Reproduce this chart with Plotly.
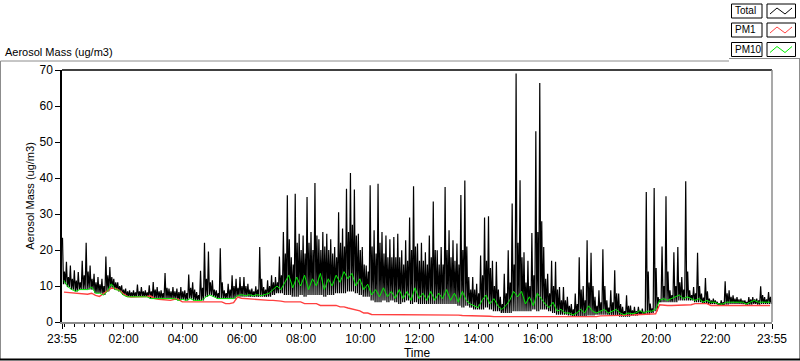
import plotly.graph_objects as go

# ---------------- data (8-minute bins starting at 23:55) ----------------
BIN_MIN = 8
# highest spike in each bin
total_hi = [
    23.4, 16.7, 15.7, 14.4, 13.9, 17.0, 22.0, 15.7, 13.4, 12.5,
    12.0, 18.2, 15.3, 12.0, 11.0, 10.2, 9.3, 8.8, 8.8, 10.4,
    9.7, 8.8, 10.2, 11.1, 9.7, 8.8, 13.6, 9.3, 9.7, 9.3,
    9.7, 8.8, 13.2, 11.0, 8.3, 14.2, 22.0, 19.6, 11.6, 8.8,
    20.5, 8.8, 10.6, 13.0, 12.0, 12.5, 12.5, 10.6, 9.3, 9.9,
    20.8, 9.7, 11.6, 13.0, 12.5, 18.2, 25.0, 35.2, 18.0, 35.6,
    24.5, 24.0, 34.7, 25.0, 38.6, 23.0, 25.0, 24.5, 23.0, 20.8,
    30.5, 26.0, 37.0, 41.4, 36.8, 24.5, 20.8, 15.7, 38.0, 25.5,
    38.4, 25.0, 24.0, 23.0, 23.6, 24.5, 19.9, 22.7, 29.0, 37.7,
    21.8, 22.0, 19.4, 24.0, 33.5, 19.9, 20.8, 37.5, 25.5, 22.7,
    21.8, 35.3, 39.3, 12.5, 12.5, 10.6, 18.5, 29.0, 29.4, 17.0,
    16.7, 7.0, 13.4, 19.9, 32.9, 69.0, 39.4, 19.4, 17.0, 24.7,
    53.0, 66.4, 20.8, 13.4, 17.0, 16.7, 9.7, 9.7, 7.0, 5.0,
    7.9, 18.0, 10.0, 22.7, 19.2, 7.0, 8.8, 20.2, 6.0, 8.8,
    14.4, 7.9, 4.2, 7.4, 4.6, 4.2, 4.2, 3.7, 36.1, 5.1,
    37.2, 6.9, 21.0, 34.9, 8.8, 19.4, 20.8, 12.5, 39.1, 8.8,
    9.7, 19.2, 7.9, 12.2, 6.5, 6.5, 5.6, 6.0, 11.3, 8.8,
    7.4, 6.9, 6.5, 6.0, 6.9, 6.9, 6.5, 9.9, 6.9, 8.3,
]
# top of the dense mass in each bin
total_mid = [
    14.0, 12.5, 12.0, 11.5, 11.0, 13.0, 14.0, 12.0, 11.0, 10.5,
    10.0, 13.0, 12.5, 11.0, 10.0, 9.0, 8.5, 8.2, 8.2, 8.5,
    8.5, 8.2, 8.5, 9.0, 8.5, 8.0, 9.5, 8.5, 8.5, 8.3,
    8.5, 8.0, 9.5, 9.0, 7.5, 9.5, 12.0, 11.0, 9.0, 8.0,
    11.0, 8.0, 9.0, 10.0, 9.5, 10.0, 10.0, 9.0, 8.5, 9.0,
    12.0, 9.0, 10.0, 11.0, 11.0, 13.0, 19.0, 23.0, 16.0, 22.0,
    20.0, 19.0, 22.0, 20.0, 24.0, 20.0, 21.0, 20.0, 19.0, 18.0,
    22.0, 21.0, 25.0, 27.0, 24.0, 20.0, 16.0, 14.0, 21.0, 19.0,
    22.0, 19.0, 18.0, 18.0, 18.0, 18.0, 16.0, 17.0, 20.0, 21.0,
    17.0, 17.0, 16.0, 18.0, 20.0, 16.0, 16.0, 20.0, 18.0, 17.0,
    16.0, 20.0, 21.0, 9.0, 9.0, 8.0, 13.0, 17.0, 15.0, 10.0,
    9.0, 5.0, 8.0, 11.0, 16.0, 22.0, 18.0, 11.0, 10.0, 13.0,
    25.0, 28.0, 12.0, 8.0, 10.0, 9.0, 6.0, 6.0, 4.5, 3.5,
    5.0, 9.0, 6.0, 11.0, 10.0, 4.5, 5.5, 10.0, 4.0, 5.5,
    8.0, 5.0, 3.0, 4.5, 3.2, 3.0, 3.0, 2.8, 14.0, 3.8,
    15.0, 6.3, 10.0, 14.0, 7.5, 10.0, 11.0, 9.0, 14.0, 7.5,
    8.0, 10.0, 6.8, 8.5, 6.0, 6.0, 5.2, 5.5, 8.0, 7.0,
    6.5, 6.3, 6.0, 5.6, 6.3, 6.3, 6.0, 7.5, 6.3, 7.0,
]
# lowest level in each bin
total_lo = [
    10.5, 9.7, 9.0, 8.5, 9.0, 9.0, 9.0, 9.0, 8.0, 8.0,
    7.5, 8.5, 9.5, 9.0, 8.5, 7.5, 7.0, 7.0, 7.0, 7.0,
    7.0, 7.0, 6.5, 6.5, 6.5, 6.5, 6.5, 6.5, 6.5, 6.0,
    6.3, 6.0, 6.5, 6.0, 6.0, 6.0, 7.0, 7.5, 7.0, 6.5,
    6.5, 6.5, 6.5, 6.5, 7.0, 7.0, 7.0, 7.0, 7.0, 7.0,
    7.0, 7.0, 7.0, 7.5, 8.0, 8.0, 7.5, 7.5, 7.0, 7.0,
    7.5, 7.0, 7.5, 7.5, 7.5, 7.5, 7.0, 7.5, 7.5, 8.0,
    8.0, 8.0, 8.5, 8.5, 8.0, 7.5, 7.0, 7.0, 6.0, 5.5,
    5.5, 6.0, 5.5, 6.0, 5.5, 5.0, 5.5, 6.0, 5.0, 5.5,
    5.0, 5.0, 5.0, 5.0, 5.0, 5.0, 5.0, 5.0, 5.0, 5.0,
    4.5, 4.0, 4.5, 4.0, 3.5, 3.5, 3.5, 4.0, 3.5, 3.0,
    3.0, 2.5, 2.5, 2.5, 3.0, 3.0, 3.0, 3.0, 3.0, 3.5,
    3.0, 3.5, 3.5, 3.0, 2.5, 2.0, 2.0, 2.0, 1.8, 1.5,
    1.5, 1.5, 1.6, 1.8, 1.8, 2.0, 2.0, 2.0, 2.0, 1.8,
    1.8, 1.5, 1.5, 1.5, 1.8, 1.8, 2.0, 2.0, 2.0, 2.5,
    3.0, 5.5, 5.5, 5.5, 5.5, 5.5, 6.0, 6.0, 6.0, 6.0,
    5.5, 5.5, 5.0, 5.0, 5.0, 5.0, 4.5, 4.5, 4.8, 5.0,
    5.0, 5.0, 5.0, 4.8, 4.8, 5.0, 4.8, 5.0, 5.0, 5.0,
]
pm10 = [
    11.5, 9.8, 9.0, 8.5, 9.0, 9.0, 9.0, 9.7, 8.0, 8.0,
    7.5, 8.5, 10.6, 9.0, 8.8, 7.5, 7.0, 7.0, 7.0, 7.0,
    7.0, 7.0, 6.5, 6.5, 6.5, 6.5, 6.5, 6.5, 6.5, 6.0,
    6.3, 6.0, 6.5, 6.0, 6.0, 6.0, 7.0, 7.5, 7.0, 6.5,
    6.5, 6.5, 6.5, 6.5, 7.3, 7.6, 7.3, 7.6, 7.3, 7.6,
    7.3, 7.6, 8.0, 9.0, 10.0, 9.0, 11.0, 13.0, 9.5, 12.5,
    10.0, 13.0, 9.0, 12.0, 10.0, 13.5, 9.0, 12.0, 10.0, 13.0,
    11.0, 14.0, 12.0, 13.5, 10.0, 12.0, 9.0, 10.5, 7.5, 9.0,
    7.0, 9.5, 7.0, 8.5, 6.5, 9.0, 6.5, 8.5, 6.0, 9.5,
    6.5, 8.0, 6.0, 8.5, 6.0, 8.0, 6.5, 9.0, 6.0, 8.0,
    5.5, 8.5, 6.0, 5.0, 4.5, 4.0, 6.0, 7.5, 5.0, 6.5,
    4.5, 3.5, 4.5, 6.0, 8.5, 7.0, 8.5, 5.0, 7.0, 4.5,
    8.0, 6.5, 5.0, 4.0, 5.5, 3.0, 3.5, 2.5, 2.5, 2.0,
    2.5, 3.5, 2.5, 4.5, 3.0, 2.5, 3.0, 3.5, 2.5, 3.0,
    3.5, 2.5, 2.0, 2.5, 2.3, 2.5, 3.2, 2.5, 3.0, 3.0,
    3.5, 6.0, 6.5, 6.0, 6.5, 7.0, 7.5, 6.5, 7.0, 6.5,
    6.0, 6.5, 5.5, 6.0, 5.5, 5.5, 5.0, 5.0, 5.5, 5.5,
    5.5, 5.5, 5.5, 5.0, 5.5, 6.0, 5.5, 5.5, 5.5, 5.5,
]
pm1 = [
    8.3, 8.2, 8.0, 7.9, 7.7, 7.7, 7.7, 8.0, 7.4, 7.1,
    7.9, 8.8, 9.4, 9.3, 8.8, 7.9, 7.1, 6.9, 6.9, 7.0,
    7.0, 7.1, 7.2, 6.5, 6.3, 6.2, 6.0, 6.0, 6.3, 6.3,
    5.6, 5.6, 5.6, 5.6, 5.6, 5.6, 5.6, 5.6, 5.6, 5.6,
    5.6, 5.1, 5.1, 5.4, 6.9, 6.6, 6.5, 6.3, 6.3, 6.2,
    6.2, 6.0, 6.0, 6.0, 6.0, 5.8, 5.6, 5.6, 5.6, 5.6,
    5.6, 5.1, 5.1, 5.1, 5.1, 4.6, 4.6, 4.6, 4.6, 4.6,
    4.2, 4.2, 3.9, 3.7, 3.4, 3.1, 2.5, 2.5, 2.1, 2.1,
    2.1, 2.1, 2.0, 2.1, 2.1, 2.0, 2.1, 2.1, 2.0, 2.0,
    2.0, 2.1, 2.0, 2.0, 2.0, 2.0, 1.9, 2.0, 1.9, 1.9,
    1.9, 1.8, 1.8, 1.8, 1.7, 1.7, 1.7, 1.7, 1.6, 1.5,
    1.5, 1.5, 1.4, 1.4, 1.4, 1.4, 1.3, 1.4, 1.3, 1.3,
    1.3, 1.3, 1.3, 1.3, 1.3, 1.3, 1.3, 1.3, 1.3, 1.3,
    1.3, 1.3, 1.4, 1.4, 1.5, 1.5, 1.7, 1.7, 1.8, 1.8,
    1.8, 1.9, 1.9, 1.9, 1.9, 2.0, 2.1, 2.2, 2.3, 2.3,
    2.3, 4.8, 4.6, 4.6, 4.6, 4.6, 4.8, 4.8, 4.8, 4.8,
    5.1, 5.1, 5.1, 5.1, 4.6, 4.6, 4.6, 4.4, 4.4, 4.4,
    4.5, 4.5, 4.5, 4.5, 4.5, 4.5, 4.5, 4.6, 4.6, 4.6,
]
tick_vals = [0, 125, 245, 365, 485, 605, 725, 845, 965, 1085, 1205, 1325, 1440]
tick_text = ["23:55", "02:00", "04:00", "06:00", "08:00", "10:00", "12:00",
             "14:00", "16:00", "18:00", "20:00", "22:00", "23:55"]
series_names = ["Total", "PM1", "PM10"]
series_colors = ["#000000", "#FF4040", "#00EE00"]

# ---------------- build traces ----------------
t_total, y_total = [], []
for i, (h, m, l) in enumerate(zip(total_hi, total_mid, total_lo)):
    base = i * BIN_MIN
    t_total += [base + 1, base + 3, base + 5, base + 7]
    y_total += [h, l, m, l]
t_bin = [i * BIN_MIN + BIN_MIN / 2 for i in range(len(pm10))]

FONT = "Liberation Sans"
fig = go.Figure()
fig.add_trace(go.Scatter(x=t_total, y=y_total, mode="lines", name="Total",
                         line=dict(color=series_colors[0], width=1.2)))
fig.add_trace(go.Scatter(x=t_bin, y=pm1, mode="lines", name="PM1",
                         line=dict(color=series_colors[1], width=1.4)))
fig.add_trace(go.Scatter(x=t_bin, y=pm10, mode="lines", name="PM10",
                         line=dict(color=series_colors[2], width=1)))

W, H = 800, 361
L, R, T, B = 62, 28, 70, 39
pw, ph = W - L - R, H - T - B


def px(x):
    return (x - L) / pw


def py(y):
    return (H - B - y) / ph


GRAY = "#8c8c8c"
shapes = []
# outer frame
shapes.append(dict(type="line", xref="paper", yref="paper", x0=px(0.5), x1=px(729), y0=py(61), y1=py(61),
                   line=dict(color=GRAY, width=1)))
shapes.append(dict(type="line", xref="paper", yref="paper", x0=px(0.5), x1=px(0.5), y0=py(61), y1=py(359),
                   line=dict(color=GRAY, width=1)))
shapes.append(dict(type="line", xref="paper", yref="paper", x0=px(799.5), x1=px(799.5), y0=py(58), y1=py(359),
                   line=dict(color=GRAY, width=1)))
shapes.append(dict(type="line", xref="paper", yref="paper", x0=px(729), x1=px(799.5), y0=py(58.5), y1=py(58.5),
                   line=dict(color=GRAY, width=1)))
shapes.append(dict(type="line", xref="paper", yref="paper", x0=px(0), x1=px(800), y0=py(359.5), y1=py(359.5),
                   line=dict(color="#000000", width=2)))
# plot area borders (top black, right gray)
shapes.append(dict(type="line", xref="paper", yref="paper", x0=0, x1=1, y0=1, y1=1,
                   line=dict(color="#000000", width=1.5)))
shapes.append(dict(type="line", xref="paper", yref="paper", x0=1, x1=1, y0=0, y1=1,
                   line=dict(color=GRAY, width=1.5)))

annotations = []
# legend boxes
rows = [11, 30, 49.5]
for name, color, yc in zip(series_names, series_colors, rows):
    y0, y1 = yc - 7, yc + 7
    shapes.append(dict(type="rect", xref="paper", yref="paper", x0=px(731.5), x1=px(762), y0=py(y1), y1=py(y0),
                       line=dict(color="#000000", width=1), fillcolor="white"))
    shapes.append(dict(type="rect", xref="paper", yref="paper", x0=px(767), x1=px(795.5), y0=py(y1), y1=py(y0),
                       line=dict(color="#000000", width=1), fillcolor="white"))
    pts = [(770, yc + 3), (777, yc - 3), (785, yc + 3), (792, yc - 3)]
    path = "M " + " L ".join(f"{px(a)},{py(b)}" for a, b in pts)
    shapes.append(dict(type="path", xref="paper", yref="paper", path=path,
                       line=dict(color=color, width=1)))
    annotations.append(dict(xref="paper", yref="paper", x=px(732.5), y=py(yc), text=name, showarrow=False,
                            xanchor="left", yanchor="middle", font=dict(family=FONT, size=10, color="black")))

annotations.append(dict(xref="paper", yref="paper", x=px(3), y=py(52), text="Aerosol Mass (ug/m3)",
                        showarrow=False, xanchor="left", yanchor="middle",
                        font=dict(family=FONT, size=11, color="black")))

fig.update_layout(
    template="none",
    width=W, height=H,
    margin=dict(l=L, r=R, t=T, b=B, pad=0),
    paper_bgcolor="white", plot_bgcolor="white",
    showlegend=False,
    shapes=shapes, annotations=annotations,
    font=dict(family=FONT, size=12, color="black"),
    xaxis=dict(range=[0, 1440], tickmode="array", tickvals=tick_vals, ticktext=tick_text,
               ticks="outside", ticklen=5, tickcolor="black", tickwidth=1,
               minor=dict(tickmode="array", tickvals=list(range(5, 1440, 20)), ticks="outside",
                          ticklen=3, tickcolor="black", tickwidth=1, showgrid=False),
               showgrid=False, zeroline=False, showline=True, linecolor=GRAY, linewidth=1.5,
               automargin=False,
               tickfont=dict(family=FONT, size=12, color="black"),
               title=dict(text="Time", font=dict(family=FONT, size=12, color="black"), standoff=3)),
    yaxis=dict(range=[0, 70], tickmode="array", tickvals=list(range(0, 71, 10)),
               ticks="outside", ticklen=5, tickcolor="black", tickwidth=1,
               showgrid=False, zeroline=False, showline=True, linecolor="black", linewidth=1.5,
               automargin=False,
               tickfont=dict(family=FONT, size=12, color="black"),
               title=dict(text="Aerosol Mass (ug/m3)", font=dict(family=FONT, size=11, color="black"),
                          standoff=3)),
)

fig.write_html("out.html", config={"displayModeBar": False},
               post_script="document.body.style.margin='0';document.body.style.overflow='hidden';")
